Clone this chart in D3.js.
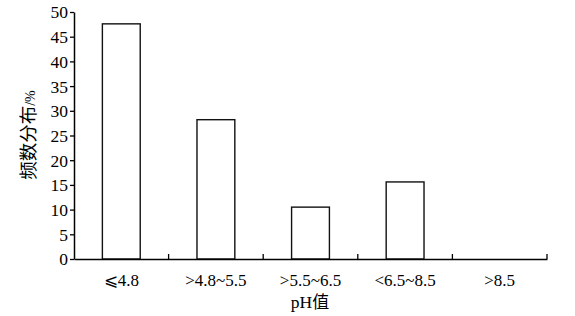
<!DOCTYPE html>
<html><head><meta charset="utf-8">
<script src="https://cdn.jsdelivr.net/npm/d3@7"></script>
<style>body{margin:0;background:#fff}</style>
</head><body>
<svg id="c" width="575" height="316"></svg>
<script>
const categories = ["⩽4.8", ">4.8~5.5", ">5.5~6.5", "<6.5~8.5", ">8.5"];
const values = [47.6, 28.2, 10.5, 15.6, 0];
const yTicks = [0, 5, 10, 15, 20, 25, 30, 35, 40, 45, 50];

const svg = d3.select("#c");
const m = {l: 74, r: 28, t: 12, b: 57};
const W = 575, H = 316;
const x = d3.scaleBand().domain(categories).range([m.l, W - m.r]).paddingInner(0.6).paddingOuter(0.3);
const y = d3.scaleLinear().domain([0, 50]).range([H - m.b, m.t]);
const font = "'Liberation Serif', 'Times New Roman', 'DejaVu Serif', serif";

// bars
svg.selectAll("rect.bar").data(values).enter().append("rect")
  .attr("x", (d, i) => x(categories[i]))
  .attr("y", d => y(d))
  .attr("width", x.bandwidth())
  .attr("height", d => y(0) - y(d))
  .attr("fill", "#fff").attr("stroke", "#111").attr("stroke-width", 1.4)
  .attr("display", d => d > 0 ? null : "none");

// y axis
const ya = svg.append("g").attr("transform", `translate(${m.l},0)`)
  .call(d3.axisLeft(y).tickValues(yTicks).tickSize(4).tickPadding(2).tickSizeOuter(0));
ya.select(".domain").attr("stroke-width", 1.5);
ya.selectAll("line").attr("stroke-width", 1.3);
ya.selectAll("text").attr("font-family", font).attr("font-size", 17.5).attr("fill", "#000")
  .attr("dy", "0.34em");

// x axis
const step = x.step();
const xa = svg.append("g").attr("transform", `translate(0,${y(0)})`)
  .call(d3.axisBottom(x).tickSize(0).tickPadding(0));
xa.select(".domain").attr("stroke-width", 1.5);
xa.selectAll("text").attr("font-family", font).attr("font-size", 17).attr("fill", "#000")
  .attr("y", 27).attr("dy", 0);
// category boundary ticks (inward)
const bounds = categories.map((c, i) => x(c) - x.bandwidth() * 0.75 + step);
xa.selectAll("line.b").data(bounds).enter().append("line")
  .attr("x1", d => d).attr("x2", d => d).attr("y1", 0).attr("y2", -5)
  .attr("stroke", "#000").attr("stroke-width", 1.3);

// axis titles
const xl = svg.append("text").attr("x", 310).attr("y", 308)
  .attr("text-anchor", "middle").attr("font-family", font).attr("font-size", 17.5)
  .text("pH");
xl.append("tspan").attr("font-family", "'Noto Sans CJK SC'").attr("font-size", 17).text("值");

const yl = svg.append("text").attr("transform", "translate(35,135) rotate(-90)")
  .attr("text-anchor", "middle");
yl.append("tspan").attr("font-family", "'Noto Sans CJK SC'").attr("font-size", 18.5).text("频数分布");
yl.append("tspan").attr("font-family", font).attr("font-size", 14).text("/%");
</script>
</body></html>
